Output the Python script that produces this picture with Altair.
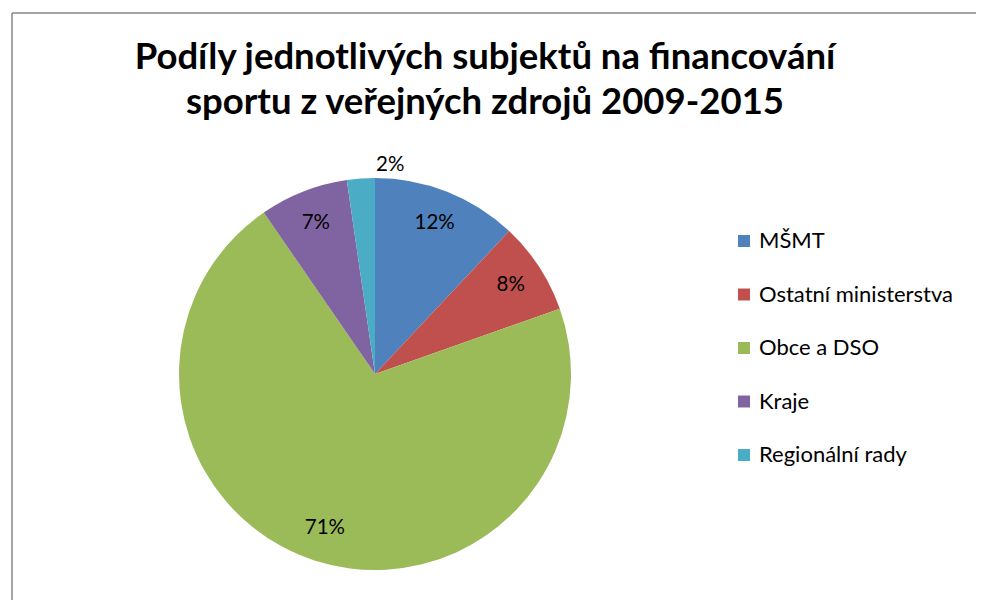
import altair as alt
import pandas as pd

CATEGORIES = ["MŠMT", "Ostatní ministerstva", "Obce a DSO", "Kraje", "Regionální rady"]
SHARES = [12.0, 7.6, 70.8, 7.3, 2.3]
COLORS = ["#4F81BD", "#C0504D", "#9BBB59", "#8064A2", "#4BACC6"]
TITLE_LINES = ["Podíly jednotlivých subjektů na financování",
               "sportu z veřejných zdrojů 2009-2015"]

df = pd.DataFrame({"subject": CATEGORIES, "share": SHARES,
                   "idx": list(range(len(CATEGORIES)))})
one = pd.DataFrame({"k": [0]})

W, H = 968, 592
CX, CY, R = 367, 366, 196

base = alt.Chart(df).encode(
    theta=alt.Theta("share:Q", stack=True),
    order=alt.Order("idx:Q"),
    x=alt.value(CX),
    y=alt.value(CY),
)

pie = base.mark_arc(radius=R).encode(
    color=alt.Color(
        "subject:N",
        sort=CATEGORIES,
        scale=alt.Scale(domain=CATEGORIES, range=COLORS),
        legend=alt.Legend(
            title=None, orient="none", legendX=725, legendY=222,
            labelFont="Lato", labelFontSize=22, labelColor="#000000",
            labelLimit=0,
            symbolType="square", symbolSize=144, symbolStrokeWidth=0,
            rowPadding=31.5, labelOffset=4, padding=0,
        ),
    )
)

labels = base.transform_calculate(
    label="format(datum.share, '.0f') + '%'",
    lr="datum.share < 5 ? 210 : 162",
).mark_text(font="Lato", fontSize=20.5, color="#000000",
            align="center", baseline="middle").encode(
    text="label:N",
    radius=alt.Radius("lr:Q", scale=None),
)

title = alt.Chart(one).mark_text(
    font="Lato", fontWeight="bold", fontSize=36.5, lineHeight=45,
    align="center", baseline="alphabetic", color="#000000",
).encode(x=alt.value(477), y=alt.value(61), text=alt.value(TITLE_LINES))

frame_left = alt.Chart(one).mark_rule(color="#878787", strokeWidth=1.5).encode(
    x=alt.value(4), y=alt.value(5), y2=alt.value(H))
frame_top = alt.Chart(one).mark_rule(color="#878787", strokeWidth=1.5).encode(
    y=alt.value(5), x=alt.value(4), x2=alt.value(W))

chart = alt.layer(pie, labels, title, frame_left, frame_top).properties(
    width=W, height=H, padding=0, autosize=alt.AutoSizeParams(type="none"),
    background="white",
).configure_view(stroke=None)

chart.save("out.html", embed_options={"renderer": "svg", "actions": False})
